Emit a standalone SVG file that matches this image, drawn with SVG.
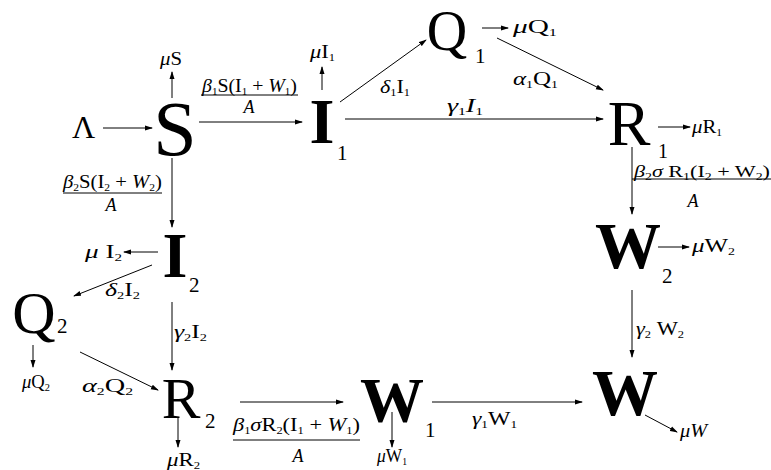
<svg xmlns="http://www.w3.org/2000/svg" width="771" height="470" viewBox="0 0 771 470">
<defs>
<style>
text{font-family:"Liberation Serif","Times New Roman",serif;fill:#000}
.n{font-size:64px}
.b{font-weight:bold}
.sb{font-size:21px}
.l{font-size:18px}
.s{font-size:10px}
.i{font-style:italic}
.c line{stroke:#000;stroke-width:1;fill:none}
.arr{marker-end:url(#a)}
</style>
<marker id="a" markerWidth="8" markerHeight="6" refX="7" refY="3" orient="auto" markerUnits="userSpaceOnUse"><path d="M0,0.5 L8,3 L0,5.5 z" fill="#000"/></marker>
</defs>
<rect width="771" height="470" fill="#fff"/>

<g id="n-Lambda"><text x="72" y="138" style="font-size:32px">Λ</text></g>
<g id="n-S"><text class="n" x="175" y="155" text-anchor="middle" style="font-size:78px">S</text></g>
<g id="n-I1"><text class="n b" x="322" y="143" text-anchor="middle">I</text><text class="sb" x="337" y="160">1</text></g>
<g id="n-Q1"><text class="n" x="447" y="50" text-anchor="middle" style="font-size:56px">Q</text><text class="sb" x="475" y="63">1</text></g>
<g id="n-R1"><text class="n" x="629" y="145" text-anchor="middle">R</text><text class="sb" x="658" y="158" style="font-size:20px">1</text></g>
<g id="n-W2"><text class="n b" x="628" y="268" text-anchor="middle" style="font-size:66px">W</text><text class="sb" x="662" y="283">2</text></g>
<g id="n-W"><text class="n b" x="625" y="415" text-anchor="middle" style="font-size:66px">W</text></g>
<g id="n-W1"><text class="n b" x="392" y="422" text-anchor="middle">W</text><text class="sb" x="425" y="437">1</text></g>
<g id="n-R2"><text class="n" x="181" y="418" text-anchor="middle" style="font-size:58px">R</text><text class="sb" x="205" y="428">2</text></g>
<g id="n-Q2"><text class="n" x="34" y="333" text-anchor="middle" style="font-size:60px">Q</text><text class="sb" x="57" y="333">2</text></g>
<g id="n-I2"><text class="n b" x="175" y="277" text-anchor="middle">I</text><text class="sb" x="189" y="292">2</text></g>

<g id="connectors" class="c">
<line class="arr" x1="103" y1="128" x2="152" y2="128"/>
<line class="arr" x1="172" y1="98" x2="172" y2="72"/>
<line class="arr" x1="199" y1="122" x2="302" y2="122"/>
<line x1="201" y1="95" x2="298" y2="95"/>
<line class="arr" x1="322" y1="90" x2="322" y2="67"/>
<line class="arr" x1="340" y1="102" x2="426" y2="40"/>
<line class="arr" x1="482" y1="28" x2="508" y2="28"/>
<line class="arr" x1="497" y1="38" x2="603" y2="90"/>
<line class="arr" x1="345" y1="119" x2="603" y2="119"/>
<line class="arr" x1="658" y1="127" x2="690" y2="127"/>
<line class="arr" x1="632" y1="147" x2="632" y2="214"/>
<line x1="632" y1="179" x2="771" y2="179"/>
<line class="arr" x1="658" y1="247" x2="689" y2="247"/>
<line class="arr" x1="632" y1="290" x2="632" y2="357"/>
<line class="arr" x1="645" y1="415" x2="677" y2="432"/>
<line class="arr" x1="432" y1="402" x2="582" y2="402"/>
<line class="arr" x1="392" y1="412" x2="392" y2="447"/>
<line class="arr" x1="240" y1="402" x2="343" y2="402"/>
<line x1="233" y1="440" x2="360" y2="440"/>
<line class="arr" x1="178" y1="418" x2="178" y2="447"/>
<line class="arr" x1="80" y1="352" x2="158" y2="390"/>
<line class="arr" x1="33" y1="345" x2="33" y2="367"/>
<line class="arr" x1="172" y1="302" x2="172" y2="370"/>
<line class="arr" x1="172" y1="158" x2="172" y2="227"/>
<line x1="63" y1="193" x2="162" y2="193"/>
<line class="arr" x1="158" y1="252" x2="124" y2="252"/>
<line class="arr" x1="152" y1="265" x2="74" y2="296"/>

<text class="l" x="160" y="65" textLength="22" lengthAdjust="spacingAndGlyphs"><tspan class="i">μ</tspan>S</text>
<text class="l" x="202" y="92" textLength="95" lengthAdjust="spacingAndGlyphs"><tspan class="i">β</tspan><tspan class="s" dy="3">1</tspan><tspan dy="-3">S(I</tspan><tspan class="s" dy="3">1</tspan><tspan dy="-3"> + </tspan><tspan class="i">W</tspan><tspan class="s" dy="3">1</tspan><tspan dy="-3">)</tspan></text>
<text class="l i" x="249" y="113" text-anchor="middle">A</text>
<text class="l" x="310" y="58" textLength="25" lengthAdjust="spacingAndGlyphs"><tspan class="i">μ</tspan>I<tspan class="s" dy="3">1</tspan></text>
<text class="l" x="380" y="93" textLength="30" lengthAdjust="spacingAndGlyphs"><tspan class="i">δ</tspan><tspan class="s" dy="3">1</tspan><tspan dy="-3">I</tspan><tspan class="s" dy="3">1</tspan></text>
<text class="l" x="513" y="33" textLength="44" lengthAdjust="spacingAndGlyphs"><tspan class="i">μ</tspan>Q<tspan class="s" dy="3">1</tspan></text>
<text class="l" x="513" y="85" textLength="45" lengthAdjust="spacingAndGlyphs"><tspan class="i">α</tspan><tspan class="s" dy="3">1</tspan><tspan dy="-3">Q</tspan><tspan class="s" dy="3">1</tspan></text>
<text class="l" x="447" y="112" textLength="36" lengthAdjust="spacingAndGlyphs"><tspan class="i">γ</tspan><tspan class="s" dy="3">1</tspan><tspan class="i" dy="-3">I</tspan><tspan class="s" dy="3">1</tspan></text>
<text class="l" x="692" y="133" textLength="30" lengthAdjust="spacingAndGlyphs"><tspan class="i">μ</tspan>R<tspan class="s" dy="3">1</tspan></text>
<text class="l" x="634" y="177" textLength="136" lengthAdjust="spacingAndGlyphs" style="font-size:16px"><tspan class="i">β</tspan><tspan class="s" dy="3">2</tspan><tspan class="i" dy="-3">σ</tspan><tspan> R</tspan><tspan class="s" dy="3">1</tspan><tspan dy="-3">(I</tspan><tspan class="s" dy="3">2</tspan><tspan dy="-3"> + W</tspan><tspan class="s" dy="3">2</tspan><tspan dy="-3">)</tspan></text>
<text class="l i" x="693" y="207" text-anchor="middle">A</text>
<text class="l" x="692" y="252" textLength="43" lengthAdjust="spacingAndGlyphs"><tspan class="i">μ</tspan>W<tspan class="s" dy="3">2</tspan></text>
<text class="l" x="636" y="335" textLength="48" lengthAdjust="spacingAndGlyphs"><tspan class="i">γ</tspan><tspan class="s" dy="3">2</tspan><tspan dy="-3"> W</tspan><tspan class="s" dy="3">2</tspan></text>
<text class="l" x="680" y="437" textLength="27" lengthAdjust="spacingAndGlyphs"><tspan class="i">μW</tspan></text>
<text class="l" x="472" y="425" textLength="45" lengthAdjust="spacingAndGlyphs"><tspan class="i">γ</tspan><tspan class="s" dy="3">1</tspan><tspan dy="-3">W</tspan><tspan class="s" dy="3">1</tspan></text>
<text class="l" x="377" y="462" textLength="30" lengthAdjust="spacingAndGlyphs"><tspan class="i">μ</tspan>W<tspan class="s" dy="3">1</tspan></text>
<text class="l" x="233" y="431" textLength="127" lengthAdjust="spacingAndGlyphs"><tspan class="i">β</tspan><tspan class="s" dy="3">1</tspan><tspan class="i" dy="-3">σ</tspan><tspan>R</tspan><tspan class="s" dy="3">2</tspan><tspan dy="-3">(I</tspan><tspan class="s" dy="3">1</tspan><tspan dy="-3"> + </tspan><tspan class="i">W</tspan><tspan class="s" dy="3">1</tspan><tspan dy="-3">)</tspan></text>
<text class="l i" x="298" y="462" text-anchor="middle">A</text>
<text class="l" x="167" y="466" textLength="33" lengthAdjust="spacingAndGlyphs"><tspan class="i">μ</tspan>R<tspan class="s" dy="3">2</tspan></text>
<text class="l" x="82" y="392" textLength="51" lengthAdjust="spacingAndGlyphs"><tspan class="i">α</tspan><tspan class="s" dy="3">2</tspan><tspan dy="-3">Q</tspan><tspan class="s" dy="3">2</tspan></text>
<text class="l" x="22" y="388" textLength="28" lengthAdjust="spacingAndGlyphs"><tspan class="i">μ</tspan>Q<tspan class="s" dy="3">2</tspan></text>
<text class="l" x="174" y="338" textLength="33" lengthAdjust="spacingAndGlyphs"><tspan class="i">γ</tspan><tspan class="s" dy="3">2</tspan><tspan dy="-3">I</tspan><tspan class="s" dy="3">2</tspan></text>
<text class="l" x="63" y="188" textLength="99" lengthAdjust="spacingAndGlyphs"><tspan class="i">β</tspan><tspan class="s" dy="3">2</tspan><tspan dy="-3">S(I</tspan><tspan class="s" dy="3">2</tspan><tspan dy="-3"> + </tspan><tspan class="i">W</tspan><tspan class="s" dy="3">2</tspan><tspan dy="-3">)</tspan></text>
<text class="l i" x="111" y="211" text-anchor="middle">A</text>
<text class="l" x="85" y="258" textLength="37" lengthAdjust="spacingAndGlyphs"><tspan class="i">μ</tspan> I<tspan class="s" dy="3">2</tspan></text>
<text class="l" x="105" y="296" textLength="35" lengthAdjust="spacingAndGlyphs"><tspan class="i">δ</tspan><tspan class="s" dy="3">2</tspan><tspan dy="-3">I</tspan><tspan class="s" dy="3">2</tspan></text>
</g>
</svg>
